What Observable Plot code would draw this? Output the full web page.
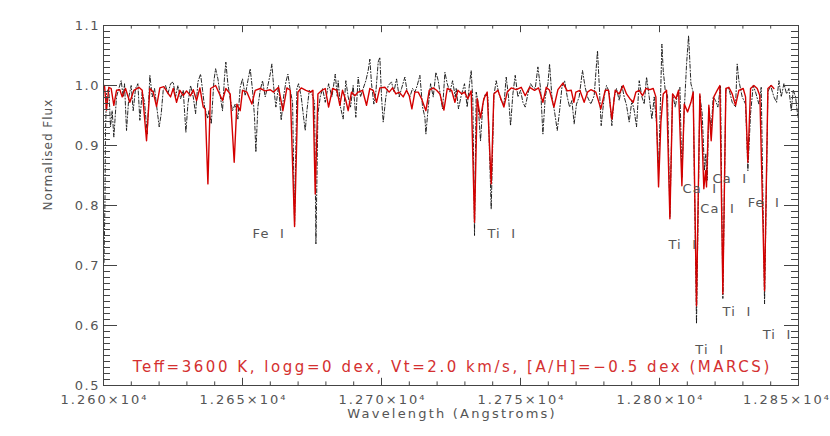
<!DOCTYPE html>
<html><head><meta charset="utf-8">
<script src="https://cdn.jsdelivr.net/npm/d3@7"></script>
<script src="https://cdn.jsdelivr.net/npm/@observablehq/plot@0.6"></script>
<style>
html,body{margin:0;padding:0;background:#fff;}
#chart svg{overflow:visible;}
#chart text{font-family:"DejaVu Sans";}
</style></head><body><div id="chart"></div><script>
// Synthetic model spectrum (red): [wavelength (A), normalised flux]
const modelSpectrum = [
[12600.36,1.0],[12601.08,0.959],[12601.92,0.997],[12602.76,0.995],[12603.72,0.967],[12604.68,0.992],[12605.88,0.993],[12606.72,0.981],[12607.92,0.995],[12609.48,0.972],[12610.92,0.992],[12612.72,0.997],[12613.92,0.992],[12615.48,0.908],[12616.68,0.995],[12617.88,0.989],[12619.08,0.965],[12620.28,0.996],[12621.72,0.998],[12622.92,0.989],[12624.12,0.981],[12625.08,0.995],[12626.28,0.972],[12627.48,0.992],[12628.68,0.983],[12629.88,0.991],[12631.32,0.983],[12632.28,0.993],[12633.48,0.975],[12634.68,0.996],[12635.88,0.964],[12636.6,0.961],[12637.56,0.836],[12638.52,0.995],[12640.32,1.0],
[12642.81,0.975],[12644.01,0.995],[12645.57,0.986],[12647.01,0.872],[12647.97,0.969],[12649.17,0.958],[12650.01,0.992],[12651.57,0.989],[12653.37,0.969],[12654.57,0.992],[12656.37,0.995],[12658.17,0.991],[12659.97,0.993],[12661.17,0.989],[12662.97,0.997],[12664.53,0.958],[12665.97,0.996],[12667.17,0.992],[12668.73,0.765],[12669.93,0.989],[12671.13,0.996],[12672.81,0.992],[12674.37,0.989],[12675.33,0.992],[12676.17,0.819],[12677.13,0.986],[12678.57,0.992],[12679.77,0.995],[12680.97,0.964],[12682.41,0.995],[12683.97,0.992],
[12685.01,0.967],[12685.97,0.992],[12687.17,0.975],[12688.01,0.958],[12689.21,0.989],[12690.41,0.983],[12691.61,0.989],[12693.17,0.992],[12694.61,0.967],[12695.81,0.995],[12697.01,0.992],[12698.21,0.972],[12699.41,0.996],[12701.21,0.997],[12702.77,0.989],[12703.97,0.996],[12705.17,0.986],[12706.37,0.989],[12707.81,0.981],[12709.01,0.992],[12709.97,0.983],[12710.93,0.961],[12712.01,0.989],[12713.21,0.989],[12714.41,0.978],[12715.97,0.958],[12717.17,0.992],[12718.61,0.996],[12719.81,0.992],[12721.01,0.986],[12722.45,0.959],[12723.65,0.995],[12725.21,0.992],[12726.41,0.972],
[12727.46,0.992],[12728.9,0.986],[12729.86,0.989],[12731.06,0.978],[12732.26,0.991],[12733.46,0.772],[12734.42,0.978],[12735.62,0.946],[12736.82,0.978],[12738.02,0.989],[12739.46,0.836],[12740.42,0.986],[12741.86,0.992],[12744.02,0.964],[12745.22,0.989],[12746.66,0.996],[12748.46,0.993],[12750.26,0.997],[12751.7,0.983],[12753.26,0.997],[12755.06,0.992],[12756.5,0.996],[12758.06,0.972],[12759.26,0.997],[12760.46,0.992],[12762.02,0.964],[12763.46,0.993],[12765.26,1.004],[12766.82,0.991],[12768.26,0.992],
[12769.2,0.972],[12769.9,0.989],[12771.34,0.992],[12772.9,0.972],[12774.1,0.989],[12775.3,0.993],[12777.1,0.989],[12778.9,0.961],[12780.46,0.992],[12781.66,0.992],[12782.86,0.944],[12784.06,0.992],[12785.5,0.986],[12786.94,1.0],[12788.14,0.986],[12789.34,0.978],[12790.54,0.972],[12791.5,0.989],[12792.7,0.992],[12793.9,0.983],[12795.1,0.995],[12796.54,0.993],[12797.74,0.995],[12798.7,0.981],[12799.66,0.831],[12800.5,0.939],[12801.34,0.986],[12802.54,0.992],[12803.74,0.778],[12804.7,0.986],[12805.9,0.978],[12806.86,0.992],[12808.06,0.833],[12808.9,0.969],[12810.1,0.956],[12811.3,0.972],
[12812.11,0.989],[12813.31,0.633],[12814.51,0.986],[12815.35,0.908],[12815.95,0.828],[12816.55,0.858],[12816.91,0.831],[12817.75,0.967],[12818.59,0.908],[12819.55,0.981],[12820.75,0.992],[12821.71,1.0],[12822.79,0.653],[12823.87,0.995],[12824.95,0.997],[12826.15,0.986],[12827.35,0.967],[12828.55,0.992],[12830.11,0.995],[12830.95,0.981],[12831.79,0.872],[12832.75,0.995],[12833.95,1.0],[12835.15,0.995],[12836.11,0.983],[12837.79,0.658],[12838.99,0.995],[12840.19,1.0],[12841.15,0.995]
];
// Observed spectrum (black dash-dot)
const observedSpectrum = [
[12600.18,0.705],[12600.54,0.81],[12600.72,0.925],[12601.08,0.988],[12601.92,0.995],[12602.52,0.931],[12603.12,0.958],[12603.72,0.914],[12604.68,0.981],[12605.52,0.995],[12606.36,1.008],[12607.08,0.981],[12607.56,1.003],[12608.28,0.925],[12609.12,0.981],[12609.96,1.0],[12610.68,0.958],[12611.52,0.995],[12612.36,1.003],[12613.08,0.942],[12613.92,0.989],[12614.76,0.972],[12615.72,0.919],[12616.68,1.017],[12617.52,0.981],[12618.36,0.995],[12619.32,0.958],[12620.04,0.931],[12620.76,0.953],[12621.48,0.992],[12622.32,1.0],[12623.16,0.986],[12624.12,1.003],[12625.08,1.006],[12625.92,0.981],[12626.76,1.0],[12627.72,0.978],[12628.68,0.992],[12629.64,0.922],[12630.36,0.969],[12631.32,1.0],[12632.28,0.981],[12633.12,0.953],[12633.96,1.006],[12634.92,1.019],[12635.64,0.992],[12636.36,0.964],[12637.5,0.945],[12637.92,0.958],[12638.76,0.936],[12639.72,1.008],[12640.32,1.028],[12641.16,1.011],
[12641.97,0.983],[12642.81,0.958],[12643.53,1.014],[12644.01,1.039],[12644.73,1.003],[12645.57,0.978],[12646.41,0.958],[12647.37,0.969],[12648.33,0.944],[12649.17,0.997],[12650.01,1.011],[12650.97,0.983],[12651.93,1.008],[12652.77,1.028],[12653.61,0.992],[12654.33,0.947],[12654.81,0.889],[12655.53,0.964],[12656.37,0.992],[12657.21,1.008],[12658.17,0.981],[12659.13,1.0],[12659.97,1.019],[12660.57,1.036],[12661.17,1.0],[12662.01,0.964],[12662.97,1.0],[12663.93,0.942],[12664.77,0.981],[12665.61,1.006],[12666.33,1.019],[12667.17,0.992],[12668.01,0.972],[12668.73,0.767],[12669.57,0.995],[12670.17,1.003],[12671.13,0.981],[12671.97,0.947],[12672.57,0.925],[12673.17,0.958],[12674.01,0.992],[12674.97,0.986],[12675.93,0.972],[12676.41,0.736],[12677.13,0.953],[12677.97,0.981],[12678.81,0.995],[12679.77,0.972],[12680.97,1.003],[12682.17,0.981],[12683.37,1.019],[12684.09,0.981],
[12684.41,1.008],[12685.25,0.964],[12686.21,0.944],[12687.17,1.008],[12688.01,0.981],[12688.85,0.964],[12689.81,1.0],[12690.77,0.947],[12691.61,1.014],[12692.45,0.981],[12693.41,0.995],[12694.37,1.008],[12695.21,1.025],[12695.81,1.044],[12696.41,1.003],[12697.25,0.969],[12697.97,0.989],[12698.81,1.039],[12699.41,1.047],[12700.01,0.981],[12700.61,0.939],[12701.57,0.981],[12702.41,1.0],[12703.61,1.006],[12704.45,0.989],[12705.41,1.011],[12706.37,0.981],[12707.21,0.995],[12708.41,1.014],[12709.25,0.989],[12710.21,0.981],[12711.17,0.995],[12712.01,0.989],[12712.85,1.0],[12713.81,1.017],[12714.77,0.964],[12715.61,0.947],[12715.97,0.919],[12716.81,0.964],[12717.65,1.003],[12718.61,0.981],[12719.57,1.022],[12720.41,1.008],[12721.25,0.981],[12721.97,0.961],[12722.81,1.022],[12723.65,1.003],[12724.61,0.989],[12725.57,1.008],[12726.53,0.981],
[12726.86,0.995],[12727.7,0.961],[12728.66,0.983],[12729.86,1.003],[12730.82,0.964],[12731.66,1.003],[12732.26,1.025],[12732.86,0.975],[12733.46,0.75],[12734.06,0.989],[12734.66,0.975],[12735.62,0.908],[12736.46,0.969],[12737.3,0.986],[12738.26,0.981],[12739.46,0.794],[12740.42,0.983],[12741.26,1.008],[12742.1,0.989],[12743.06,0.975],[12744.02,0.967],[12744.86,1.014],[12745.7,0.981],[12746.42,0.933],[12747.26,0.986],[12748.1,1.017],[12749.06,0.981],[12750.02,0.992],[12750.86,0.972],[12751.7,0.964],[12752.66,0.986],[12753.62,1.003],[12754.46,0.997],[12755.3,0.995],[12756.26,1.031],[12757.22,0.995],[12758.06,0.919],[12758.9,0.981],[12759.86,1.003],[12760.46,1.036],[12761.3,0.981],[12762.26,0.956],[12763.22,0.925],[12764.06,0.958],[12764.9,0.997],[12765.86,1.008],[12766.82,0.981],[12767.66,0.964],[12768.5,0.975],
[12769.3,0.936],[12770.14,0.969],[12771.1,0.981],[12772.3,1.025],[12773.26,0.997],[12774.1,0.981],[12775.3,0.969],[12776.5,0.983],[12777.7,1.058],[12778.3,1.003],[12779.02,0.933],[12780.1,0.981],[12780.94,1.0],[12781.9,0.989],[12782.86,0.933],[12783.7,0.981],[12784.54,0.995],[12785.5,0.975],[12786.46,1.0],[12787.3,0.981],[12788.14,0.967],[12789.1,0.939],[12790.06,0.975],[12790.9,0.958],[12791.74,0.931],[12792.7,1.008],[12793.66,0.981],[12794.5,0.969],[12795.34,1.014],[12796.3,0.981],[12797.26,0.944],[12798.1,0.981],[12798.94,0.936],[12799.66,0.858],[12800.14,0.936],[12800.86,1.069],[12801.34,1.025],[12802.06,0.992],[12802.9,0.983],[12803.74,0.781],[12804.7,0.986],[12805.66,0.964],[12806.5,0.986],[12807.34,0.997],[12808.06,0.847],[12808.9,0.958],[12809.74,1.036],[12810.46,1.083],[12811.3,1.003],
[12812.11,0.989],[12813.31,0.603],[12814.51,0.983],[12815.35,0.953],[12816.19,0.858],[12816.67,0.886],[12817.15,0.842],[12817.75,0.964],[12818.59,0.925],[12819.31,0.981],[12820.15,0.975],[12820.99,0.964],[12821.95,1.0],[12822.79,0.645],[12823.87,0.992],[12824.95,0.995],[12826.15,0.972],[12827.35,0.964],[12827.95,1.036],[12828.55,1.008],[12829.75,0.981],[12830.95,0.969],[12831.79,0.858],[12832.75,0.953],[12833.71,1.0],[12834.55,0.989],[12835.75,0.969],[12836.59,0.997],[12837.79,0.636],[12838.99,0.989],[12839.95,1.0],[12841.15,0.981],[12842.11,0.972],[12842.95,1.008],[12843.79,0.981],[12844.75,1.003],[12845.71,0.986],[12846.55,0.995],[12847.39,0.958],[12848.11,0.992],[12848.95,0.981],[12849.79,0.947]
];
// Line identifications
const labelText = ["Fe\u00a0\u00a0I","Ti\u00a0\u00a0I","Ca\u00a0\u00a0I","Ca\u00a0\u00a0I","Ca\u00a0\u00a0I","Fe\u00a0\u00a0I","Ti\u00a0\u00a0I","Ti\u00a0\u00a0I","Ti\u00a0\u00a0I","Ti\u00a0\u00a0I"];
const labelWave = [12653.6,12738.1,12819.1,12808.3,12814.7,12831.7,12803.2,12822.7,12837.1,12812.9];
const labelFlux = [0.753,0.753,0.845,0.827,0.795,0.805,0.735,0.622,0.585,0.56];
// Axis ticks
const xMajorTicks = [12600,12650,12700,12750,12800,12850];
const yMajorTicks = [0.5,0.6,0.7,0.8,0.9,1.0,1.1];
const xMinorTicks = d3.range(12600,12851,10);
const yMinorTicks = d3.range(50,111,1).map(d=>d/100);
const xTitle = "Wavelength (Angstroms)";
const yTitle = "Normalised Flux";
const caption = "Teff=3600 K, logg=0 dex, Vt=2.0 km/s, [A/H]=\u22120.5 dex (MARCS)";

const model = modelSpectrum.map(([w,f])=>({w,f}));
const obs = observedSpectrum.map(([w,f])=>({w,f}));
const labels = labelText.map((t,i)=>({t,w:labelWave[i],f:labelFlux[i]}));

const ML=103, MR=32, MT=25, MB=51, W=830, H=436;
const iw = W-ML-MR, ih = H-MT-MB;
const axisCol = "#444", textCol = "#555";

const chart = Plot.plot({
  width: W, height: H,
  marginLeft: ML, marginRight: MR, marginTop: MT, marginBottom: MB,
  style: {fontFamily: "DejaVu Sans", background: "#fff", overflow: "visible"},
  x: {domain: [12600, 12850]},
  y: {domain: [0.5, 1.1]},
  marks: [
    Plot.line(obs, {x: "w", y: "f", stroke: "#111", strokeWidth: 0.9, strokeDasharray: "4,2,1,2"}),
    Plot.line(model, {x: "w", y: "f", stroke: "#d40000", strokeWidth: 1.4}),
    // inward ticks on all four sides
    Plot.ruleX(xMinorTicks, {x: d=>d, insetTop: ih-3.6, stroke: axisCol}),
    Plot.ruleX(xMinorTicks, {x: d=>d, insetBottom: ih-3.6, stroke: axisCol}),
    Plot.ruleX(xMajorTicks, {x: d=>d, insetTop: ih-7.2, stroke: axisCol}),
    Plot.ruleX(xMajorTicks, {x: d=>d, insetBottom: ih-7.2, stroke: axisCol}),
    Plot.ruleY(yMinorTicks, {y: d=>d, insetRight: iw-7, stroke: axisCol}),
    Plot.ruleY(yMinorTicks, {y: d=>d, insetLeft: iw-7, stroke: axisCol}),
    Plot.ruleY(yMajorTicks, {y: d=>d, insetRight: iw-14, stroke: axisCol}),
    Plot.ruleY(yMajorTicks, {y: d=>d, insetLeft: iw-14, stroke: axisCol}),
    Plot.frame({stroke: axisCol}),
    Plot.axisX({ticks: xMajorTicks, tickSize: 0, tickPadding: 9, fontSize: 13, fill: textCol, label: null,
      tickFormat: d => (d/10000).toFixed(3) + "\u00d710\u2074"}),
    Plot.axisY({ticks: yMajorTicks, tickSize: 0, tickPadding: 5, fontSize: 13, fill: textCol, label: null,
      tickFormat: d => d.toFixed(1)}),
    Plot.text([yTitle], {frameAnchor: "left", dx: -55, dy: 5, rotate: -90, text: d=>d, fontSize: 12, fill: textCol}),
    Plot.text([xTitle], {frameAnchor: "bottom", dy: 32, text: d=>d, fontSize: 13, fill: textCol}),
    Plot.text([caption], {frameAnchor: "bottom", dy: -14, text: d=>d, fontSize: 15, fill: "#d43030"}),
    Plot.text(labels, {x: "w", y: "f", text: "t", textAnchor: "start", fontSize: 13, fill: textCol})
  ]
});
document.getElementById("chart").appendChild(chart);
// widen the glyph spacing to imitate the wide plotting font (via textLength)
function spacingFor(s) {
  if (s === caption) return 2.5;
  if (s === xTitle) return 2.2;
  if (s === yTitle) return 1;
  if (s.indexOf("\u00d710") >= 0) return 2;
  if (labelText.includes(s)) return 1.1;
  if (/^\d\.\d$/.test(s)) return 1.5;
  return 0;
}
chart.querySelectorAll("text").forEach(t => {
  const s = t.textContent || "";
  const v = spacingFor(s);
  const n = s.length;
  if (!v || n < 2) return;
  const len = t.getComputedTextLength();
  if (len > 0) {
    t.setAttribute("textLength", (len + v * (n - 1)).toFixed(1));
    t.setAttribute("lengthAdjust", "spacing");
  }
  // keep the last tick label inside the window
  const r = t.getBoundingClientRect();
  if (r.right > W - 1) t.setAttribute("dx", (-(r.right - (W - 1))).toFixed(1));
});
</script></body></html>
